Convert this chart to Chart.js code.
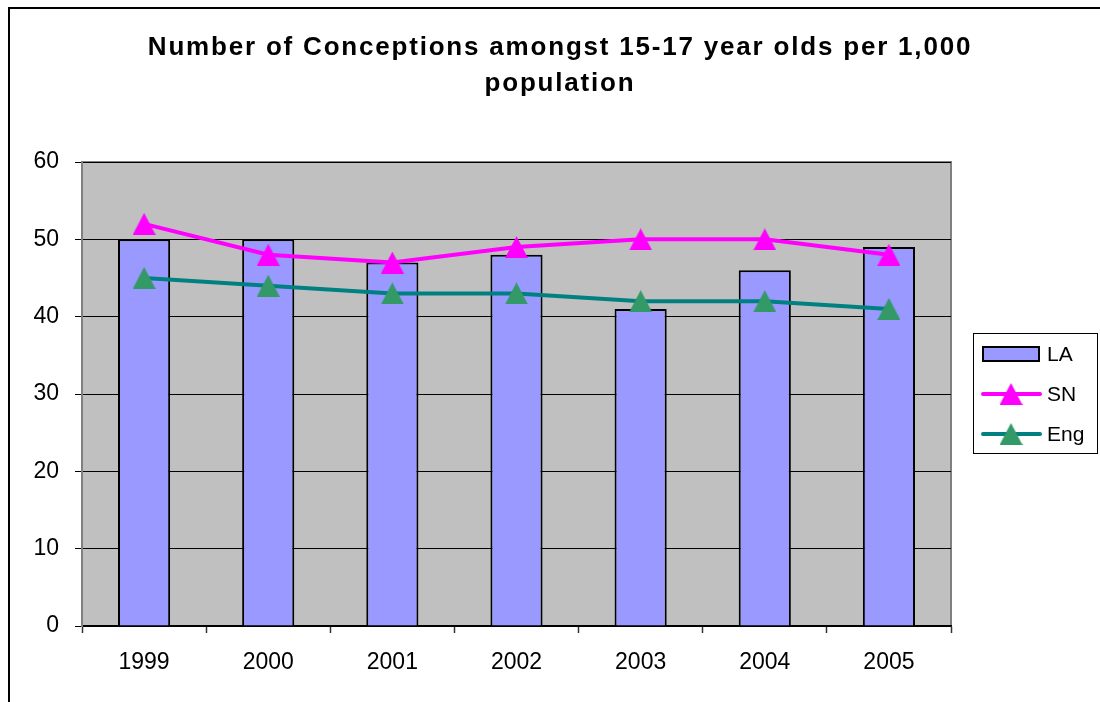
<!DOCTYPE html>
<html>
<head>
<meta charset="utf-8">
<script src="https://cdn.jsdelivr.net/npm/chart.js@4.4.1/dist/chart.umd.min.js"></script>
<style>
html,body{margin:0;padding:0;background:#fff;}
#wrap{position:relative;width:1100px;height:702px;}
canvas{display:block;}
</style>
</head>
<body>
<div id="wrap"><canvas id="c" width="1100" height="702"></canvas></div>
<script>
const years = ['1999','2000','2001','2002','2003','2004','2005'];
const laValues = [50, 50, 47, 48, 41, 46, 49];
const snValues = [52, 48, 47, 49, 50, 50, 48];
const engValues = [45, 44, 43, 43, 42, 42, 41];
const titleLines = ['Number of Conceptions amongst 15-17 year olds per 1,000', 'population'];

const FONT = '"Liberation Sans", Arial, sans-serif';

function triangleMarker(color) {
  const c = document.createElement('canvas');
  c.width = 23; c.height = 22;
  const g = c.getContext('2d');
  g.fillStyle = color;
  g.beginPath();
  g.moveTo(11.5, 0);
  g.lineTo(23, 22);
  g.lineTo(0, 22);
  g.closePath();
  g.fill();
  return c;
}
const snMarker = triangleMarker('#FF00FF');
const engMarker = triangleMarker('#339966');

const frameAndBg = {
  id: 'frameAndBg',
  beforeDraw(chart) {
    const ctx = chart.ctx;
    const a = chart.chartArea;
    ctx.save();
    ctx.strokeStyle = '#000';
    ctx.lineWidth = 2;
    ctx.beginPath();
    ctx.moveTo(9, 702);
    ctx.lineTo(9, 8);
    ctx.lineTo(1100, 8);
    ctx.stroke();
    ctx.fillStyle = '#C0C0C0';
    ctx.fillRect(a.left, a.top, a.right - a.left, a.bottom - a.top);
    ctx.strokeStyle = '#808080';
    ctx.lineWidth = 2;
    ctx.strokeRect(a.left, a.top, a.right - a.left, a.bottom - a.top);
    ctx.fillStyle = '#000';
    ctx.font = 'bold 26px ' + FONT;
    ctx.textAlign = 'center';
    ctx.textBaseline = 'middle';
    try { ctx.letterSpacing = '1.8px'; } catch (e) {}
    ctx.fillText(titleLines[0], 560, 48);
    ctx.fillText(titleLines[1], 560, 84);
    ctx.restore();
  }
};

const customLegend = {
  id: 'customLegend',
  afterDraw(chart) {
    const ctx = chart.ctx;
    const ds = chart.data.datasets;
    const x0 = 973, y0 = 333, w = 124, h = 120;
    ctx.save();
    ctx.fillStyle = '#fff';
    ctx.fillRect(x0, y0, w, h);
    ctx.strokeStyle = '#000';
    ctx.lineWidth = 1;
    ctx.strokeRect(x0 + 0.5, y0 + 0.5, w, h);
    ctx.font = '21px ' + FONT;
    ctx.textBaseline = 'middle';
    ctx.textAlign = 'left';
    const rows = [354, 394, 434];
    ds.forEach((d, i) => {
      const y = rows[i];
      if (d.type === 'bar') {
        ctx.fillStyle = d.backgroundColor;
        ctx.fillRect(983, y - 7, 56, 14);
        ctx.strokeStyle = '#000';
        ctx.lineWidth = 2;
        ctx.strokeRect(983, y - 7, 56, 14);
      } else {
        ctx.strokeStyle = d.borderColor;
        ctx.lineWidth = 4;
        ctx.lineCap = 'round';
        ctx.beginPath();
        ctx.moveTo(983, y);
        ctx.lineTo(1040, y);
        ctx.stroke();
        ctx.drawImage(d.pointStyle, 1011 - 11.5, y - 11);
      }
      ctx.fillStyle = '#000';
      ctx.fillText(d.label, 1047, y + 1);
    });
    ctx.restore();
  }
};

new Chart(document.getElementById('c'), {
  data: {
    labels: years,
    datasets: [
      {
        type: 'bar', label: 'LA', data: laValues,
        backgroundColor: '#9999FF', borderColor: '#000', borderWidth: 2,
        categoryPercentage: 1.0, barPercentage: 0.42, order: 3
      },
      {
        type: 'line', label: 'SN', data: snValues,
        borderColor: '#FF00FF', borderWidth: 4,
        pointStyle: snMarker, pointRadius: 12, pointHoverRadius: 12,
        tension: 0, order: 1
      },
      {
        type: 'line', label: 'Eng', data: engValues,
        borderColor: '#008080', borderWidth: 4,
        pointStyle: engMarker, pointRadius: 12, pointHoverRadius: 12,
        tension: 0, order: 2
      }
    ]
  },
  options: {
    responsive: false,
    animation: false,
    layout: { padding: { left: 0, right: 149, top: 162, bottom: 0 } },
    plugins: {
      legend: { display: false },
      tooltip: { enabled: false },
      title: { display: false }
    },
    scales: {
      x: {
        offset: true,
        grid: { display: true, drawOnChartArea: false, offset: true, tickLength: 7, tickColor: '#333', tickWidth: 1.5 },
        border: { display: true, color: '#000', width: 1.5 },
        ticks: { color: '#000', font: { family: FONT, size: 23 }, padding: 16 },
        afterFit(s) { s.height = 76; }
      },
      y: {
        min: 0, max: 60,
        ticks: { stepSize: 10, color: '#000', font: { family: FONT, size: 23 }, padding: 16 },
        grid: { color: '#000', lineWidth: 1, tickLength: 7, tickColor: '#000', drawOnChartArea: true },
        border: { display: true, color: '#808080', width: 2 },
        afterFit(s) { s.width = 82; }
      }
    }
  },
  plugins: [frameAndBg, customLegend]
});
</script>
</body>
</html>
